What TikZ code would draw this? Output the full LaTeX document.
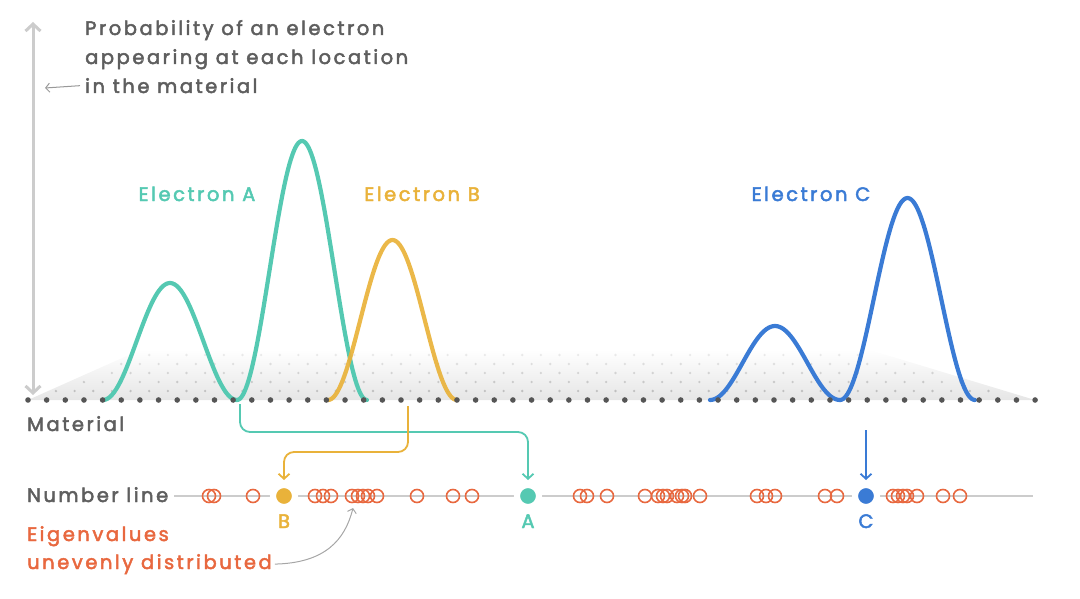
\documentclass[tikz,border=0pt]{standalone}
\usepackage{fontspec}
\setmainfont{Poppins}[LetterSpace=13, FakeBold=2.5]
\usetikzlibrary{arrows.meta}
\definecolor{cA}{HTML}{55C9B2}
\definecolor{cB}{HTML}{E9B23A}
\definecolor{cC}{HTML}{3A7BD5}
\definecolor{cE}{HTML}{E8683F}
\definecolor{txt}{HTML}{5E5E5E}
\definecolor{axisc}{HTML}{CCCCCC}
\definecolor{dotc}{HTML}{555555}
\tikzset{
  lbl/.style={font=\fontsize{19.5}{22}\selectfont, inner sep=0pt},
  wave/.style={line width=4.2pt, line cap=round, line join=round},
  conn/.style={line width=1.8pt, rounded corners=10pt, -{Straight Barb[length=5pt,width=11pt]}, shorten >=2pt},
  ecirc/.style={circle, draw=cE, line width=1.6pt, minimum size=13pt, inner sep=0pt},
  fcirc/.style={circle, draw=white, line width=6pt, minimum size=22pt, inner sep=0pt},
  numline/.style={draw=axisc, line width=1.6pt}
}
\begin{document}
\begin{tikzpicture}[x=1pt,y=-1pt]
\useasboundingbox (0,0) rectangle (1080,599);
% background plane
\shade[top color=white, bottom color=black!10] (28,400) -- (140,350) -- (870,350) -- (1035,400) -- cycle;
\foreach \r in {1,...,5}{
  \pgfmathsetmacro{\yy}{400-\r*9}
  \pgfmathsetmacro{\op}{0.6-\r*0.08}
  \foreach \i in {0,...,54}{
    \pgfmathsetmacro{\xx}{28+\i*18.65+9.3*mod(\r,2)}
    \ifdim \xx pt>\dimexpr 28pt+\r pt*22\relax
      \ifdim \xx pt<\dimexpr 1035pt-\r pt*32\relax
        \fill[black!40, opacity=\op] (\xx,\yy) circle (1.3);
      \fi
    \fi
  }
}
% axis arrow
\coordinate (ytop) at (33,22);
\coordinate (ybot) at (33,395);
\draw[axisc, line width=3pt, {Straight Barb[length=7pt,width=15pt]}-{Straight Barb[length=7pt,width=15pt]}] (ybot) -- (ytop);
% texts
\node[lbl, text=txt, anchor=base west] (p1) at (85,35) {Probability of an electron};
\node[lbl, text=txt, anchor=base west] (p2) at (85,64) {appearing at each location};
\node[lbl, text=txt, anchor=base west] (p3) at (85,93) {in the material};
\coordinate (pt) at (45,88);
\draw[black!40, line width=1pt, -{Straight Barb[length=4pt,width=9pt]}] ([xshift=-5pt]p3.west) -- (pt);
% waves
\draw[wave, cA] plot[domain=0:1, samples=70] ({103+134*\x},{400-117*pow(sin(180*\x),2)});
\draw[wave, cA] plot[domain=0:1, samples=90] ({237+130*\x},{400-259*pow(sin(180*\x),2)});
\draw[wave, cB, opacity=0.92] plot[domain=0:1, samples=80] ({328+129*\x},{400-160*pow(sin(180*\x),2)});
\draw[wave, cC] plot[domain=0:1, samples=70] ({710+130*\x},{400-74*pow(sin(180*\x),2)});
\draw[wave, cC] plot[domain=0:1, samples=90] ({840+135*\x},{400-202*pow(sin(180*\x),2)});
% material dots
\foreach \i in {0,...,54} \fill[dotc] (28+\i*18.65,400) circle (2.8);
\node[lbl, text=cA, anchor=base] (eA) at (197,201) {Electron A};
\node[lbl, text=cB, anchor=base] (eB) at (422,201) {Electron B};
\node[lbl, text=cC, anchor=base] (eC) at (811,201) {Electron C};
\node[lbl, text=txt, anchor=base west] (mat) at (27,431) {Material};
% number line
\node[lbl, text=txt, anchor=base west] (nl) at (27,502) {Number line};
\coordinate (nlend) at (1033,496);
\draw[numline] ([xshift=6pt]nl.east |- nlend) -- (nlend);
\foreach \x [count=\i] in {209,214,253,315,323,331,352,358,363,368,377,417,453,472,580,587,607,645,658,663,667,677,682,685,700,757,766,775,825,837,893,898,903,907,917,943,960}
  \node[ecirc] (e\i) at (\x,496) {};
\node[fcirc, fill=cB] (B) at (284,496) {};
\node[fcirc, fill=cA] (A) at (528,496) {};
\node[fcirc, fill=cC] (C) at (866,496) {};
\node[lbl, text=cB, anchor=base] (lB) at (284,528) {B};
\node[lbl, text=cA, anchor=base] (lA) at (528,528) {A};
\node[lbl, text=cC, anchor=base] (lC) at (866,528) {C};
% connectors
\coordinate (srcA) at (240,404);
\coordinate (srcB) at (408,406);
\coordinate (srcC) at (866,430);
\draw[conn, cA] (srcA) -- ++(0,28) -| (A.north);
\draw[conn, cB] (srcB) -- ++(0,46) -| (B.north);
\draw[conn, cC, rounded corners=0pt] (srcC) -- (C.north);
% eigenvalue label
\node[lbl, text=cE, anchor=base west] (eig1) at (27,541) {Eigenvalues};
\node[lbl, text=cE, anchor=base west] (eig2) at (27,569) {unevenly distributed};
\coordinate (eigtip) at (353,508);
\draw[black!35, line width=1pt, -{Straight Barb[length=4pt,width=9pt]}] ([xshift=3pt]eig2.east) .. controls (325,563) and (345,540) .. (eigtip);
\end{tikzpicture}
\end{document}
